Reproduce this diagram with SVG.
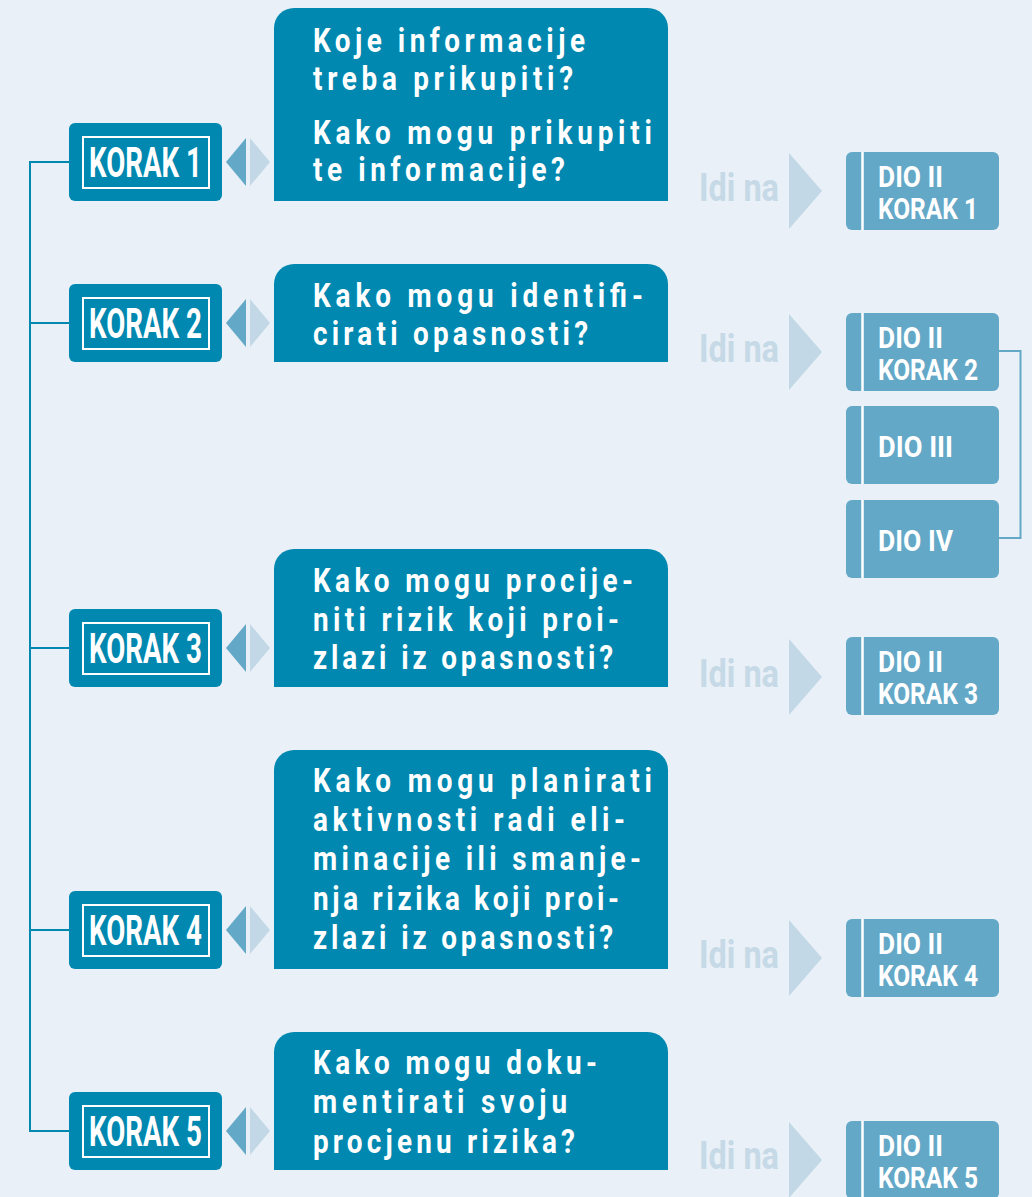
<svg xmlns="http://www.w3.org/2000/svg" width="1032" height="1197" viewBox="0 0 1032 1197">
<defs>
<style>
.bg{fill:#E9F0F7}
.conn{fill:none;stroke:#0088B0;stroke-width:2}
.br{fill:none;stroke:#64A8C8;stroke-width:2}
.kbox{fill:#0088B0}
.kin{fill:none;stroke:#fff;stroke-width:2}
.klbl{font-family:Roboto,"Liberation Sans",sans-serif;font-weight:bold;font-size:42px;fill:#fff}
.tl{fill:#64A8C8}
.tr{fill:#C2D8E6}
.qbox{fill:#0088B0}
.q{font-family:Roboto,"Liberation Sans",sans-serif;font-weight:bold;font-size:34px;fill:#fff}
.idi{font-family:Roboto,"Liberation Sans",sans-serif;font-weight:bold;font-size:38px;fill:#C5D9E6}
.ar{fill:#C2D8E6}
.dbox{fill:#64A8C8}
.dline{stroke:#fff;stroke-width:2.5}
.d{font-family:Roboto,"Liberation Sans",sans-serif;font-weight:bold;font-size:30px;fill:#fff}
</style>
</defs>
<rect class="bg" x="0" y="0" width="1032" height="1197"/>

<g id="connectors">
<path class="conn" d="M69,162 H30 V1131 H69 M30,323 H69 M30,648 H69 M30,930 H69"/>
<path class="br" d="M999,351 H1020.5 V538 H999"/>
<polygon class="tl" points="226,162 246,138 246,186"/>
<polygon class="tr" points="250,138 270,162 250,186"/>
<polygon class="tl" points="226,323 246,299 246,347"/>
<polygon class="tr" points="250,299 270,323 250,347"/>
<polygon class="tl" points="226,648 246,624 246,672"/>
<polygon class="tr" points="250,624 270,648 250,672"/>
<polygon class="tl" points="226,930 246,906 246,954"/>
<polygon class="tr" points="250,906 270,930 250,954"/>
<polygon class="tl" points="226,1131 246,1107 246,1155"/>
<polygon class="tr" points="250,1107 270,1131 250,1155"/>
<polygon class="ar" points="789,153 822,191 789,229"/>
<polygon class="ar" points="789,314 822,352 789,390"/>
<polygon class="ar" points="789,639 822,677 789,715"/>
<polygon class="ar" points="789,920 822,958 789,996"/>
<polygon class="ar" points="789,1122 822,1160 789,1198"/>
<text class="idi" x="699" y="201" textLength="80" lengthAdjust="spacingAndGlyphs">Idi na</text>
<text class="idi" x="699" y="362" textLength="80" lengthAdjust="spacingAndGlyphs">Idi na</text>
<text class="idi" x="699" y="687" textLength="80" lengthAdjust="spacingAndGlyphs">Idi na</text>
<text class="idi" x="699" y="968" textLength="80" lengthAdjust="spacingAndGlyphs">Idi na</text>
<text class="idi" x="699" y="1169" textLength="80" lengthAdjust="spacingAndGlyphs">Idi na</text>
</g>

<g id="korak1">
<rect class="kbox" x="69" y="123" width="153" height="78" rx="6"/>
<rect class="kin" x="83" y="137" width="126" height="51"/>
<text class="klbl" x="89" y="177" textLength="113" lengthAdjust="spacingAndGlyphs">KORAK 1</text>
</g>
<g id="korak2">
<rect class="kbox" x="69" y="284" width="153" height="78" rx="6"/>
<rect class="kin" x="83" y="298" width="126" height="51"/>
<text class="klbl" x="89" y="338" textLength="113" lengthAdjust="spacingAndGlyphs">KORAK 2</text>
</g>
<g id="korak3">
<rect class="kbox" x="69" y="609" width="153" height="78" rx="6"/>
<rect class="kin" x="83" y="623" width="126" height="51"/>
<text class="klbl" x="89" y="663" textLength="113" lengthAdjust="spacingAndGlyphs">KORAK 3</text>
</g>
<g id="korak4">
<rect class="kbox" x="69" y="891" width="153" height="78" rx="6"/>
<rect class="kin" x="83" y="905" width="126" height="51"/>
<text class="klbl" x="89" y="945" textLength="113" lengthAdjust="spacingAndGlyphs">KORAK 4</text>
</g>
<g id="korak5">
<rect class="kbox" x="69" y="1092" width="153" height="78" rx="6"/>
<rect class="kin" x="83" y="1106" width="126" height="51"/>
<text class="klbl" x="89" y="1146" textLength="113" lengthAdjust="spacingAndGlyphs">KORAK 5</text>
</g>

<g id="q1">
<path class="qbox" d="M274,201 V28 A20,20 0 0 1 294,8 H648 A20,20 0 0 1 668,28 V201 Z"/>
<text class="q" transform="translate(313,52) scale(0.82,1)" textLength="331.7" lengthAdjust="spacing">Koje informacije</text>
<text class="q" transform="translate(313,90) scale(0.82,1)" textLength="317.1" lengthAdjust="spacing">treba prikupiti?</text>
<text class="q" transform="translate(313,144) scale(0.82,1)" textLength="413.4" lengthAdjust="spacing">Kako mogu prikupiti</text>
<text class="q" transform="translate(313,181) scale(0.82,1)" textLength="307.3" lengthAdjust="spacing">te informacije?</text>
</g>
<g id="q2">
<path class="qbox" d="M274,362 V284 A20,20 0 0 1 294,264 H648 A20,20 0 0 1 668,284 V362 Z"/>
<text class="q" transform="translate(313,307) scale(0.82,1)" textLength="402.4" lengthAdjust="spacing">Kako mogu identifi-</text>
<text class="q" transform="translate(313,345) scale(0.82,1)" textLength="335.4" lengthAdjust="spacing">cirati opasnosti?</text>
</g>
<g id="q3">
<path class="qbox" d="M274,687 V569 A20,20 0 0 1 294,549 H648 A20,20 0 0 1 668,569 V687 Z"/>
<text class="q" transform="translate(313,592) scale(0.82,1)" textLength="390.2" lengthAdjust="spacing">Kako mogu procije-</text>
<text class="q" transform="translate(313,631) scale(0.82,1)" textLength="373.2" lengthAdjust="spacing">niti rizik koji proi-</text>
<text class="q" transform="translate(313,669) scale(0.82,1)" textLength="365.9" lengthAdjust="spacing">zlazi iz opasnosti?</text>
</g>
<g id="q4">
<path class="qbox" d="M274,969 V770 A20,20 0 0 1 294,750 H648 A20,20 0 0 1 668,770 V969 Z"/>
<text class="q" transform="translate(313,792) scale(0.82,1)" textLength="413.4" lengthAdjust="spacing">Kako mogu planirati</text>
<text class="q" transform="translate(313,831) scale(0.82,1)" textLength="380.5" lengthAdjust="spacing">aktivnosti radi eli-</text>
<text class="q" transform="translate(313,870) scale(0.82,1)" textLength="400" lengthAdjust="spacing">minacije ili smanje-</text>
<text class="q" transform="translate(313,910) scale(0.82,1)" textLength="373.2" lengthAdjust="spacing">nja rizika koji proi-</text>
<text class="q" transform="translate(313,949) scale(0.82,1)" textLength="365.9" lengthAdjust="spacing">zlazi iz opasnosti?</text>
</g>
<g id="q5">
<path class="qbox" d="M274,1170 V1052 A20,20 0 0 1 294,1032 H648 A20,20 0 0 1 668,1052 V1170 Z"/>
<text class="q" transform="translate(313,1074) scale(0.82,1)" textLength="346.3" lengthAdjust="spacing">Kako mogu doku-</text>
<text class="q" transform="translate(313,1113) scale(0.82,1)" textLength="309.8" lengthAdjust="spacing">mentirati svoju</text>
<text class="q" transform="translate(313,1153) scale(0.82,1)" textLength="319.5" lengthAdjust="spacing">procjenu rizika?</text>
</g>

<g id="dio-ii-k1">
<rect class="dbox" x="846" y="152" width="153" height="78" rx="6"/>
<line class="dline" x1="862.5" y1="152" x2="862.5" y2="230"/>
<text class="d" x="878" y="187" textLength="65" lengthAdjust="spacingAndGlyphs">DIO II</text>
<text class="d" x="878" y="219" textLength="100" lengthAdjust="spacingAndGlyphs">KORAK 1</text>
</g>
<g id="dio-ii-k2">
<rect class="dbox" x="846" y="313" width="153" height="78" rx="6"/>
<line class="dline" x1="862.5" y1="313" x2="862.5" y2="391"/>
<text class="d" x="878" y="348" textLength="65" lengthAdjust="spacingAndGlyphs">DIO II</text>
<text class="d" x="878" y="380" textLength="100" lengthAdjust="spacingAndGlyphs">KORAK 2</text>
</g>
<g id="dio-iii">
<rect class="dbox" x="846" y="406" width="153" height="78" rx="6"/>
<line class="dline" x1="862.5" y1="406" x2="862.5" y2="484"/>
<text class="d" x="878" y="457" textLength="75" lengthAdjust="spacingAndGlyphs">DIO III</text>
</g>
<g id="dio-iv">
<rect class="dbox" x="846" y="500" width="153" height="78" rx="6"/>
<line class="dline" x1="862.5" y1="500" x2="862.5" y2="578"/>
<text class="d" x="878" y="551" textLength="75" lengthAdjust="spacingAndGlyphs">DIO IV</text>
</g>
<g id="dio-ii-k3">
<rect class="dbox" x="846" y="637" width="153" height="78" rx="6"/>
<line class="dline" x1="862.5" y1="637" x2="862.5" y2="715"/>
<text class="d" x="878" y="672" textLength="65" lengthAdjust="spacingAndGlyphs">DIO II</text>
<text class="d" x="878" y="704" textLength="100" lengthAdjust="spacingAndGlyphs">KORAK 3</text>
</g>
<g id="dio-ii-k4">
<rect class="dbox" x="846" y="919" width="153" height="78" rx="6"/>
<line class="dline" x1="862.5" y1="919" x2="862.5" y2="997"/>
<text class="d" x="878" y="954" textLength="65" lengthAdjust="spacingAndGlyphs">DIO II</text>
<text class="d" x="878" y="986" textLength="100" lengthAdjust="spacingAndGlyphs">KORAK 4</text>
</g>
<g id="dio-ii-k5">
<rect class="dbox" x="846" y="1121" width="153" height="78" rx="6"/>
<line class="dline" x1="862.5" y1="1121" x2="862.5" y2="1199"/>
<text class="d" x="878" y="1156" textLength="65" lengthAdjust="spacingAndGlyphs">DIO II</text>
<text class="d" x="878" y="1188" textLength="100" lengthAdjust="spacingAndGlyphs">KORAK 5</text>
</g>
</svg>
